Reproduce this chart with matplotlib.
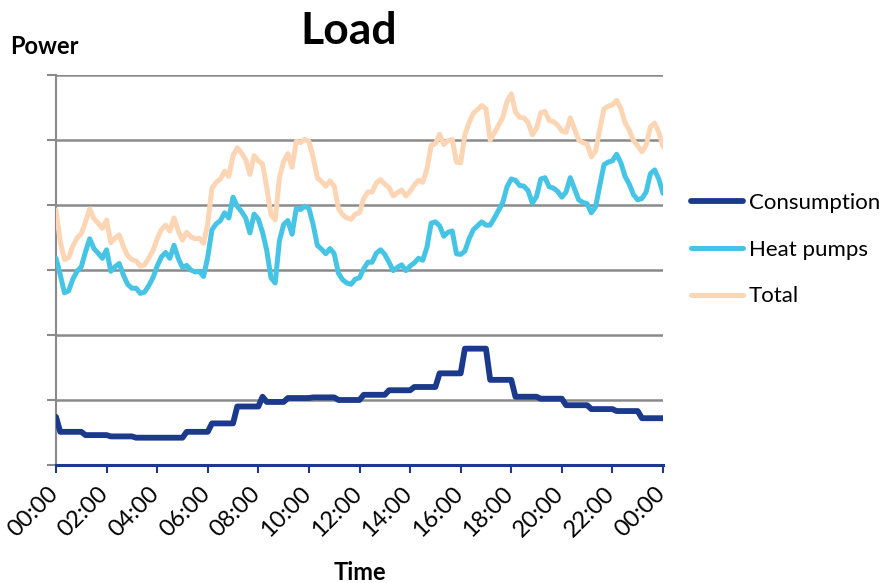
import numpy as np
import matplotlib
matplotlib.use("Agg")
import matplotlib.pyplot as plt
from matplotlib.transforms import ScaledTranslation

plt.rcParams['font.family'] = ['Lato', 'DejaVu Sans']

# 10-minute samples, 00:00 .. 24:00
heat_pumps = [
    3.18, 2.93, 2.65, 2.68, 2.86, 2.98,
    3.05, 3.28, 3.48, 3.33, 3.26, 3.18,
    3.31, 2.98, 3.05, 3.10, 2.92, 2.78,
    2.72, 2.72, 2.64, 2.66, 2.76, 2.88,
    3.06, 3.20, 3.27, 3.18, 3.38, 3.18,
    3.04, 3.07, 3.00, 2.97, 2.98, 2.90,
    3.20, 3.62, 3.71, 3.76, 3.88, 3.80,
    4.12, 3.98, 3.90, 3.80, 3.57, 3.86,
    3.78, 3.58, 3.30, 2.88, 2.80, 3.45,
    3.70, 3.76, 3.55, 3.95, 3.93, 3.98,
    3.95, 3.70, 3.38, 3.32, 3.25, 3.33,
    3.25, 2.95, 2.85, 2.80, 2.78, 2.86,
    2.88, 3.02, 3.12, 3.12, 3.26, 3.31,
    3.24, 3.12, 2.99, 3.04, 3.08, 2.99,
    3.06, 3.11, 3.18, 3.15, 3.35, 3.72,
    3.74, 3.68, 3.52, 3.58, 3.60, 3.25,
    3.24, 3.29, 3.48, 3.62, 3.68, 3.74,
    3.69, 3.69, 3.80, 3.92, 4.04, 4.28,
    4.40, 4.38, 4.30, 4.29, 4.22, 4.03,
    4.13, 4.40, 4.42, 4.28, 4.26, 4.21,
    4.12, 4.20, 4.42, 4.25, 4.08, 4.04,
    4.02, 3.88, 3.97, 4.30, 4.62, 4.66,
    4.68, 4.78, 4.65, 4.44, 4.32, 4.16,
    4.08, 4.10, 4.20, 4.48, 4.54, 4.40,
    4.18,
]

consumption = ([0.74]
               + [0.51] * 6 + [0.46] * 6 + [0.44] * 6 + [0.42] * 6
               + [0.42] * 6 + [0.51] * 6 + [0.64] * 6 + [0.90] * 6
               + [1.05] + [0.97] * 5 + [1.03] * 6 + [1.04] * 6 + [1.00] * 6
               + [1.08] * 6 + [1.15] * 6 + [1.20] * 6 + [1.41] * 6
               + [1.79] * 6 + [1.31] * 6 + [1.05] * 6 + [1.02] * 6
               + [0.92] * 6 + [0.86] * 6 + [0.83] * 6 + [0.72] * 6)

hours = np.arange(len(heat_pumps)) / 6.0
total = np.array(heat_pumps) + np.array(consumption)

tick_hours = list(range(0, 25, 2))
tick_labels = ['%02d:00' % (h % 24) for h in tick_hours]

navy = '#1B3A8C'
cyan = '#45C4E6'
peach = '#FCD5B5'
grey = '#8A8A8A'

fig = plt.figure(figsize=(8.82, 5.83), dpi=100)
ax = fig.add_axes([56 / 882, 1 - 465 / 583, 607 / 882, 390 / 583])

ax.plot(hours, consumption, color=navy, lw=4.2, label='Consumption',
        solid_joinstyle='round', solid_capstyle='round', zorder=3)
ax.plot(hours, heat_pumps, color=cyan, lw=3.6, label='Heat pumps',
        solid_joinstyle='round', solid_capstyle='round', zorder=3)
ax.plot(hours, total, color=peach, lw=3.6, label='Total',
        solid_joinstyle='round', solid_capstyle='round', zorder=3)

ax.set_xlim(0, 24)
ax.set_ylim(0, 6)
ax.set_yticks(range(0, 7))
ax.set_yticklabels([])
ax.yaxis.grid(True, color=grey, lw=1.8)
ax.set_axisbelow(True)
ax.tick_params(axis='y', length=6.5, width=1.5, color=grey, direction='out')

ax.set_xticks(tick_hours)
ax.set_xticklabels(tick_labels, rotation=45, ha='right', fontsize=17)
ax.tick_params(axis='x', length=6, width=1.5, color=navy, direction='out', pad=7)
for lab in ax.get_xticklabels():
    lab.set_transform(lab.get_transform() + ScaledTranslation(6 / 100, 0, fig.dpi_scale_trans))

ax.spines['top'].set_visible(False)
ax.spines['right'].set_visible(False)
ax.spines['left'].set_color(grey)
ax.spines['left'].set_linewidth(1.5)
ax.spines['bottom'].set_color(navy)
ax.spines['bottom'].set_linewidth(2.2)

fig.text(349 / 882, 1 - 31 / 583, 'Load', ha='center', va='center',
         fontsize=32, fontweight='bold')
fig.text(10 / 882, 1 - 47 / 583, 'Power', ha='left', va='center',
         fontsize=17, fontweight='bold')
fig.text(360 / 882, 1 - 572 / 583, 'Time', ha='center', va='center',
         fontsize=17, fontweight='bold')

ax.legend(loc='upper left', bbox_to_anchor=(691 / 882, 1 - 193 / 583),
          bbox_transform=fig.transFigure, frameon=False, fontsize=16,
          handlelength=2.35, handletextpad=0.25, labelspacing=1.2,
          borderpad=0, borderaxespad=0)

fig.savefig('out.png', dpi=100)
